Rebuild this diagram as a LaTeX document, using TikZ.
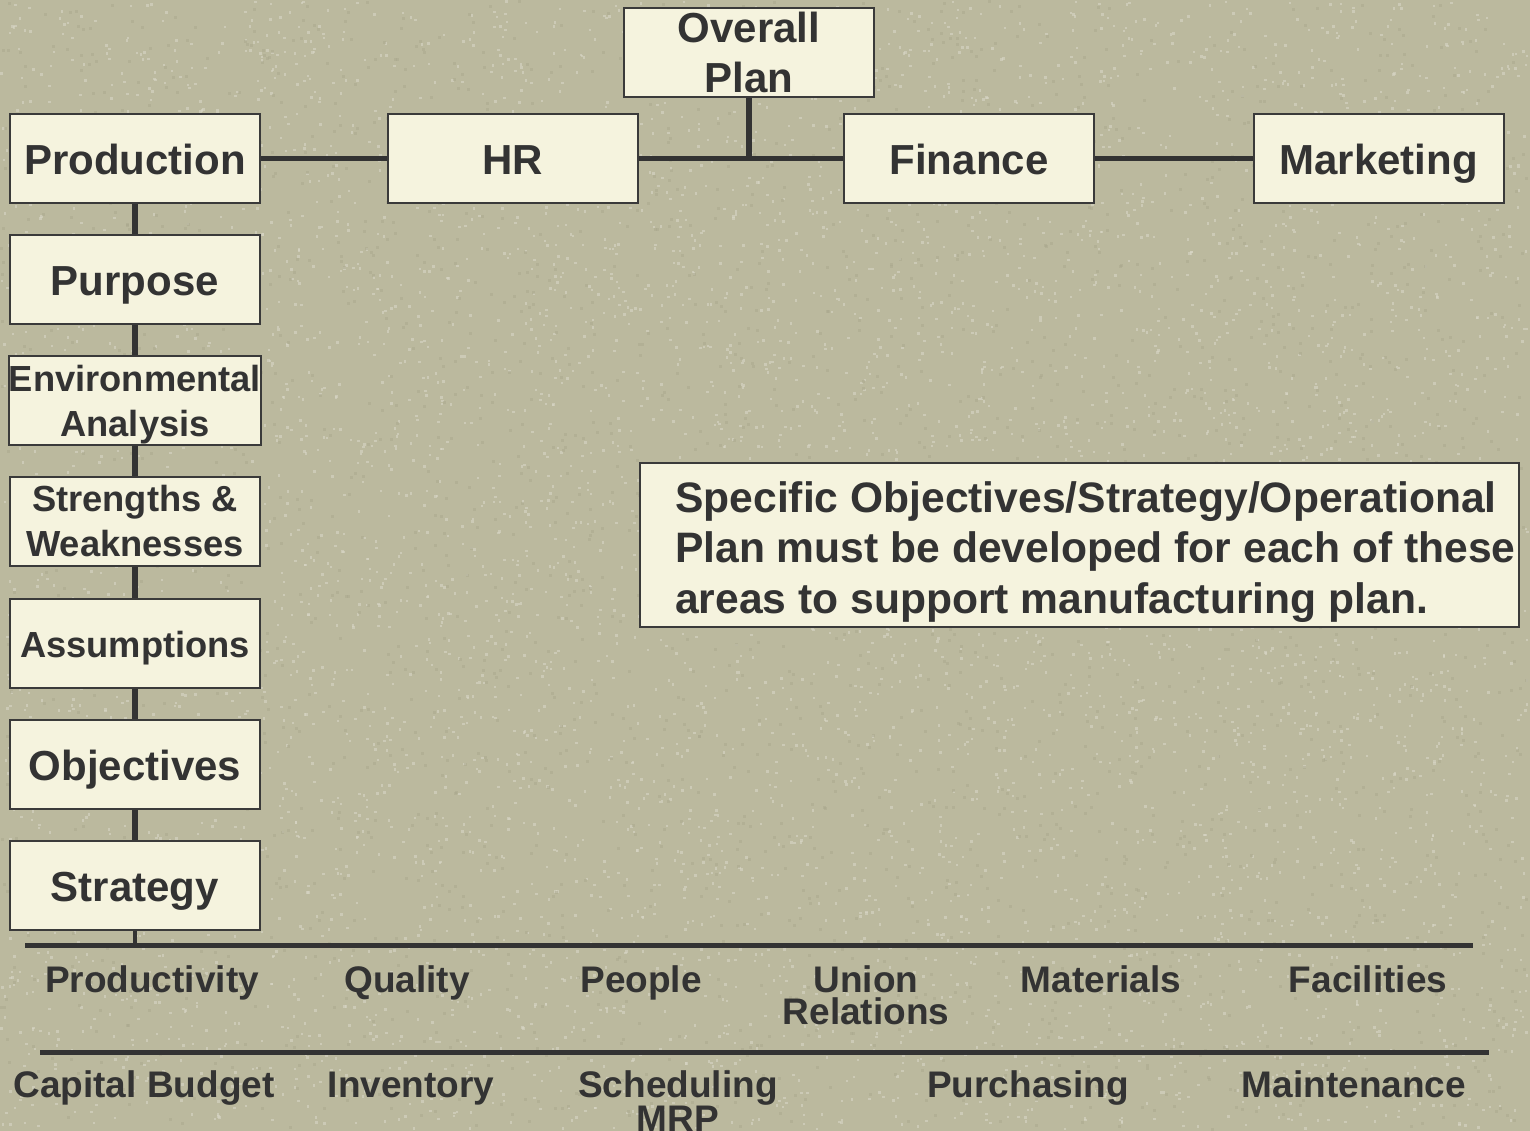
\documentclass[tikz,border=0pt]{standalone}
\usepackage{fontspec}
\setmainfont{Liberation Sans}
\definecolor{bg}{RGB}{187,185,158}
\definecolor{speck}{RGB}{216,214,198}
\definecolor{speckdark}{RGB}{170,168,142}
\definecolor{boxfill}{RGB}{245,243,222}
\definecolor{ink}{RGB}{51,51,51}
\definecolor{edge}{RGB}{58,58,58}
\tikzset{
  box/.style={draw=edge, line width=2pt, fill=boxfill, text=ink,
    minimum width=250pt, minimum height=89pt, inner sep=0pt,
    font=\bfseries\fontsize{42}{50}\selectfont, align=center},
  big1/.style={text height=32pt, text depth=0pt},
  small/.style={font=\bfseries\fontsize{36.3}{45}\selectfont},
  small1/.style={small, text height=27.4pt, text depth=0pt},
  conn/.style={draw=ink, line width=5.5pt},
  bar/.style={draw=ink, line width=5pt},
  tag/.style={text=ink, inner sep=0pt, font=\bfseries\fontsize{37}{32}\selectfont, align=center},
}
\begin{document}
\begin{tikzpicture}[x=1pt, y=-1pt]
  % page and grainy backdrop
  \fill[bg] (0,0) rectangle (1530,1131);
  \useasboundingbox (0,0) rectangle (1530,1131);
  \pgfmathsetseed{11}
  \foreach \k in {1,...,6000}{
    \pgfmathsetmacro\rx{rnd*1527}
    \pgfmathsetmacro\ry{rnd*1128}
    \fill[speck, opacity=0.6] (\rx,\ry) rectangle ++(2.5,2.5);
  }
  \foreach \k in {1,...,2500}{
    \pgfmathsetmacro\rx{rnd*1527}
    \pgfmathsetmacro\ry{rnd*1128}
    \fill[speckdark, opacity=0.5] (\rx,\ry) rectangle ++(3,3);
  }

  % top row
  \node[box] (overall) at (749,52.5) {Overall\\Plan};
  \node[box, big1] (production) at (135,158.5) {Production};
  \node[box, big1] (hr) at (512.5,158.5) {HR};
  \node[box, big1] (finance) at (969,158.5) {Finance};
  \node[box, big1] (marketing) at (1378.5,158.5) {Marketing};

  % production planning chain
  \node[box, big1] (purpose) at (135,279.5) {Purpose};
  \node[box, small] (environ) at (135,400.5) {Environmental\\\raisebox{0pt}[\height][0pt]{Analysis}};
  \node[box, small] (strengths) at (135,521.5) {Strengths \&\\Weaknesses};
  \node[box, small1] (assump) at (135,643.5) {Assumptions};
  \node[box, big1] (objectives) at (135,764.5) {Objectives};
  \node[box, big1] (strategy) at (135,885.5) {Strategy};

  % note
  \node[draw=edge, line width=2pt, fill=boxfill, minimum width=879pt, minimum height=164pt, inner sep=0pt]
    (note) at (1079.5,545) {};
  \node[text=ink, inner sep=0pt, anchor=west, align=left, font=\bfseries\fontsize{42.6}{50.5}\selectfont]
    (notetext) at (675,552) {Specific Objectives/Strategy/Operational\\Plan must be developed for each of these\\areas to support manufacturing plan.};

  % connectors
  \draw[conn] (production.east) -- (hr.west);
  \draw[conn] (hr.east) -- (finance.west);
  \draw[conn] (finance.east) -- (marketing.west);
  \draw[conn] (overall.south) -- (overall.south |- hr.east);
  \draw[conn] (production.south) -- (purpose.north);
  \draw[conn] (purpose.south) -- (environ.north);
  \draw[conn] (environ.south) -- (strengths.north);
  \draw[conn] (strengths.south) -- (assump.north);
  \draw[conn] (assump.south) -- (objectives.north);
  \draw[conn] (objectives.south) -- (strategy.north);

  % functional bars
  \coordinate (barAl) at (25,945);
  \coordinate (barAr) at (1473,945);
  \coordinate (barBl) at (40,1052);
  \coordinate (barBr) at (1489,1052);
  \draw[bar] (barAl) -- (barAr);
  \draw[bar] (barBl) -- (barBr);
  \draw[conn, line width=4pt] (strategy.south) -- (strategy.south |- barAl);

  % areas
  \node[tag, anchor=base] (productivity) at (152,992) {Productivity};
  \node[tag, anchor=base] (quality) at (407,992) {Quality};
  \node[tag, anchor=base] (people) at (641,992) {People};
  \node[tag, anchor=north] (union) at (866,965.5) {Union\\Relations};
  \node[tag, anchor=base] (materials) at (1101,992) {Materials};
  \node[tag, anchor=base] (facilities) at (1368,992) {Facilities};

  \node[tag, anchor=base] (capital) at (144,1097) {Capital Budget};
  \node[tag, anchor=base] (inventory) at (411,1097) {Inventory};
  \node[tag, anchor=north] (scheduling) at (678,1070.5) {Scheduling\\MRP};
  \node[tag, anchor=base] (purchasing) at (1028,1097) {Purchasing};
  \node[tag, anchor=base] (maintenance) at (1354,1097) {Maintenance};
\end{tikzpicture}
\end{document}
